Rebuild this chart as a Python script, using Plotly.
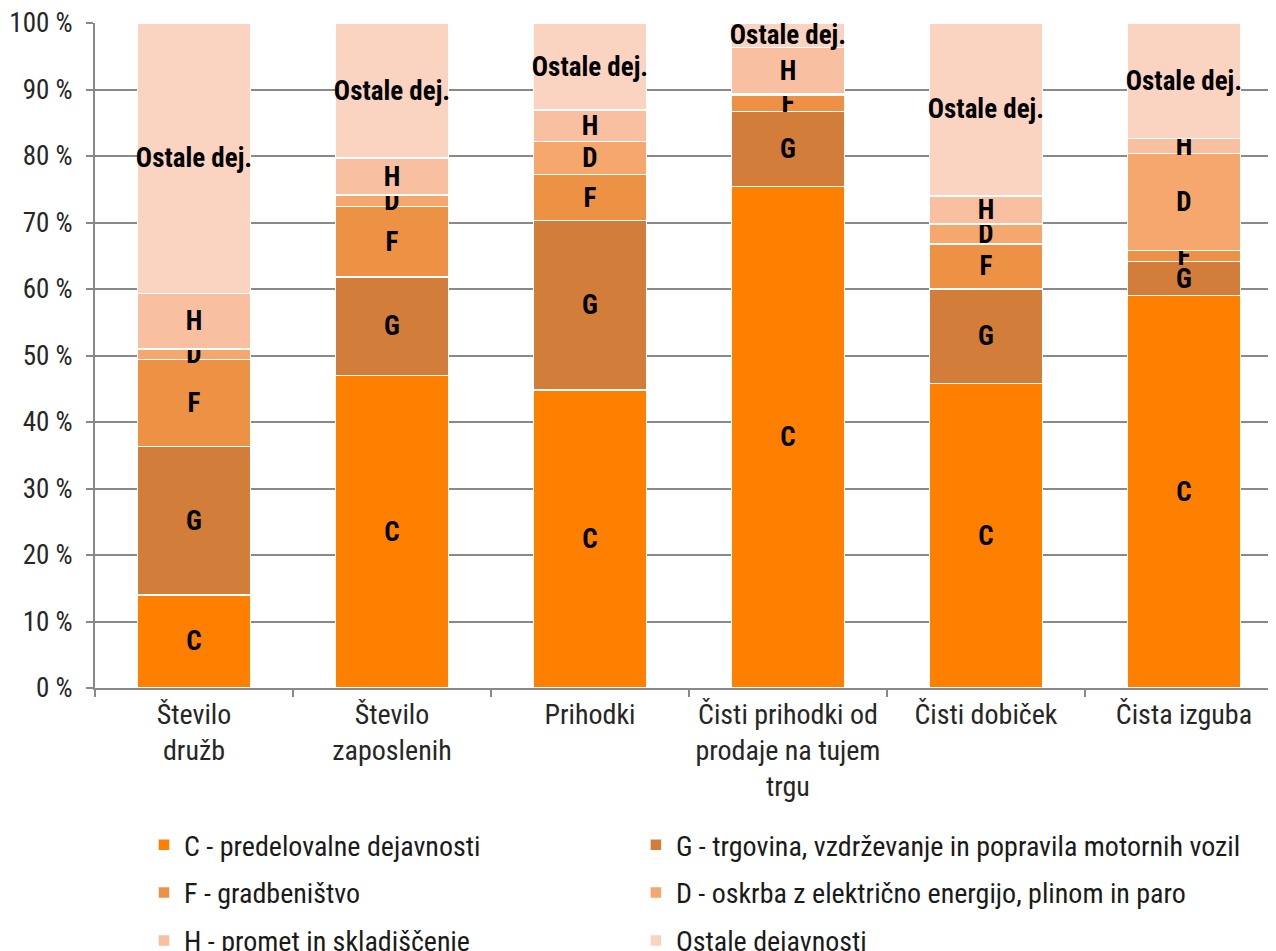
import plotly.graph_objects as go

categories = ["Število<br>družb", "Število<br>zaposlenih", "Prihodki",
              "Čisti prihodki od<br>prodaje na tujem<br>trgu", "Čisti dobiček", "Čista izguba"]

series_names = ["C - predelovalne dejavnosti",
                "G - trgovina, vzdrževanje in popravila motornih vozil",
                "F - gradbeništvo",
                "D - oskrba z električno energijo, plinom in paro",
                "H - promet in skladiščenje",
                "Ostale dejavnosti"]

C_vals = [14.0, 47.0, 44.8, 75.4, 45.8, 59.0]
G_vals = [22.35, 14.8, 25.5, 11.3, 14.2, 5.1]
F_vals = [13.05, 10.6, 6.9, 2.5, 6.8, 1.7]
D_vals = [1.55, 1.7, 5.0, 0.2, 3.0, 14.6]
H_vals = [8.4, 5.6, 4.7, 6.9, 4.2, 2.2]
O_vals = [40.65, 20.3, 13.1, 3.7, 26.0, 17.4]

C_text = ["C"] * 6
G_text = ["G"] * 6
F_text = ["F"] * 6
D_text = ["D", "D", "D", "", "D", "D"]
H_text = ["H"] * 6
O_text = ["Ostale dej."] * 6

tick_vals = [0, 10, 20, 30, 40, 50, 60, 70, 80, 90, 100]
tick_text = ["0 %", "10 %", "20 %", "30 %", "40 %", "50 %", "60 %", "70 %", "80 %", "90 %", "100 %"]

colors = ["#FF8000", "#D27E3A", "#ED9245", "#F6A76E", "#F8BFA0", "#FAD4C0"]

values = [C_vals, G_vals, F_vals, D_vals, H_vals, O_vals]
texts = [C_text, G_text, F_text, D_text, H_text, O_text]
legend_ids = ["legend", "legend2", "legend3", "legend4", "legend5", "legend6"]

FONT = "Liberation Sans Narrow, Roboto Condensed, DejaVu Sans Condensed, Roboto, sans-serif"

fig = go.Figure()
for name, vals, txt, col, lg in zip(series_names, values, texts, colors, legend_ids):
    fig.add_trace(go.Bar(
        x=categories, y=vals, name=name, legend=lg,
        marker=dict(color=col, line=dict(color="white", width=1.5)),
        text=["<b>%s</b>" % t if t else "" for t in txt],
        textposition="inside", insidetextanchor="middle", textangle=0,
        textfont=dict(color="black", size=27, family=FONT),
        hoverinfo="skip",
    ))

legend_common = dict(orientation="v", xanchor="left", yanchor="middle",
                     font=dict(size=28, family=FONT, color="#1a1a1a"),
                     bgcolor="rgba(0,0,0,0)", itemclick=False)

col_x = [0.0415, 0.458]
row_y = [-0.236, -0.308, -0.380]
legend_layout = {}
for i, lg in enumerate(legend_ids):
    legend_layout[lg] = dict(legend_common, x=col_x[i % 2], y=row_y[i // 2])

fig.update_layout(
    width=1276, height=951,
    margin=dict(l=87, r=8, t=15, b=271, autoexpand=False),
    barmode="stack", bargap=0.43,
    plot_bgcolor="white", paper_bgcolor="white",
    font=dict(family=FONT, color="#262626"),
    uniformtext=dict(minsize=27, mode="show"),
    showlegend=True,
    **legend_layout,
)

fig.update_xaxes(
    range=[-0.5, 5.465], showgrid=False,
    showline=True, linecolor="#898989", linewidth=2,
    ticks="outside", tickson="boundaries", ticklen=7, tickcolor="#898989", tickwidth=2,
    tickfont=dict(size=28, family=FONT, color="#262626"),
    tickangle=0, fixedrange=True, automargin=False,
)

fig.update_yaxes(
    range=[0, 100], tickvals=tick_vals, ticktext=tick_text,
    showgrid=True, gridcolor="#898989", gridwidth=2,
    showline=True, linecolor="#898989", linewidth=2,
    ticks="outside", ticklen=7, tickcolor="#898989", tickwidth=2,
    tickfont=dict(size=27, family=FONT, color="#262626"),
    ticklabelstandoff=8, ticklabeloverflow="allow",
    zeroline=False, fixedrange=True, automargin=False,
)

fig.write_html("out.html")
